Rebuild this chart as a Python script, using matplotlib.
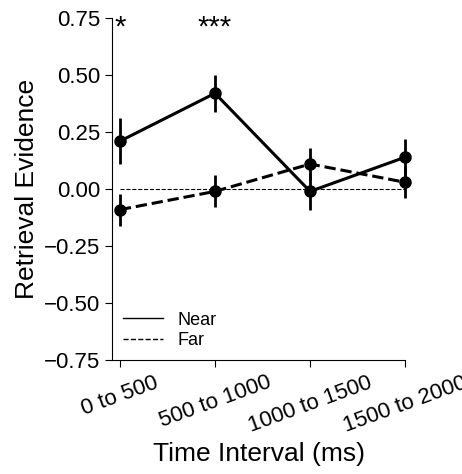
import matplotlib
matplotlib.use("Agg")
import matplotlib.pyplot as plt

plt.rcParams['font.family'] = ['Liberation Sans', 'DejaVu Sans']
cats = ["0 to 500", "500 to 1000", "1000 to 1500", "1500 to 2000"]
near = [0.21, 0.42, -0.01, 0.14]
near_err = [0.10, 0.08, 0.08, 0.08]
far = [-0.09, -0.01, 0.11, 0.03]
far_err = [0.07, 0.07, 0.07, 0.07]
stars = ["*", "***", "", ""]

fig = plt.figure(figsize=(4.62, 4.74), dpi=100)
ax = fig.add_axes([0.243, 0.24, 0.634, 0.722])
x = list(range(len(cats)))
ax.plot([0, 3], [0, 0], 'k--', lw=0.8)
for vals, errs, fmt in [(near, near_err, '-o'), (far, far_err, '--o')]:
    c = ax.errorbar(x, vals, yerr=errs, fmt=fmt, color='k', lw=2.2, ms=8, elinewidth=2)
    for art in c.get_children():
        art.set_clip_on(False)
    c.lines[0].set_clip_on(False)
for xi, s in zip(x, stars):
    if s:
        ax.text(xi, 0.77, s, ha='center', va='top', fontsize=21)
from matplotlib.lines import Line2D
ax.legend([Line2D([], [], color='k', lw=1), Line2D([], [], color='k', lw=1, ls='--')],
          ["Near", "Far"], loc='lower left', frameon=False, fontsize=13,
          handlelength=2.2, borderaxespad=0.2, labelspacing=0.2)
ax.set_xlim(-0.08, 3.0)
ax.set_ylim(-0.75, 0.75)
ax.set_yticks([-0.75, -0.5, -0.25, 0, 0.25, 0.5, 0.75])
ax.set_yticklabels(["−0.75", "−0.50", "−0.25", "0.00", "0.25", "0.50", "0.75"])
ax.set_xticks(x)
ax.set_xticklabels(cats, rotation=20, ha='center')
ax.tick_params(labelsize=16, direction='out', length=5)
ax.spines['top'].set_visible(False)
ax.spines['right'].set_visible(False)
ax.set_ylabel("Retrieval Evidence", fontsize=19)
ax.set_xlabel("Time Interval (ms)", fontsize=19)
fig.savefig("out.png", dpi=100)
